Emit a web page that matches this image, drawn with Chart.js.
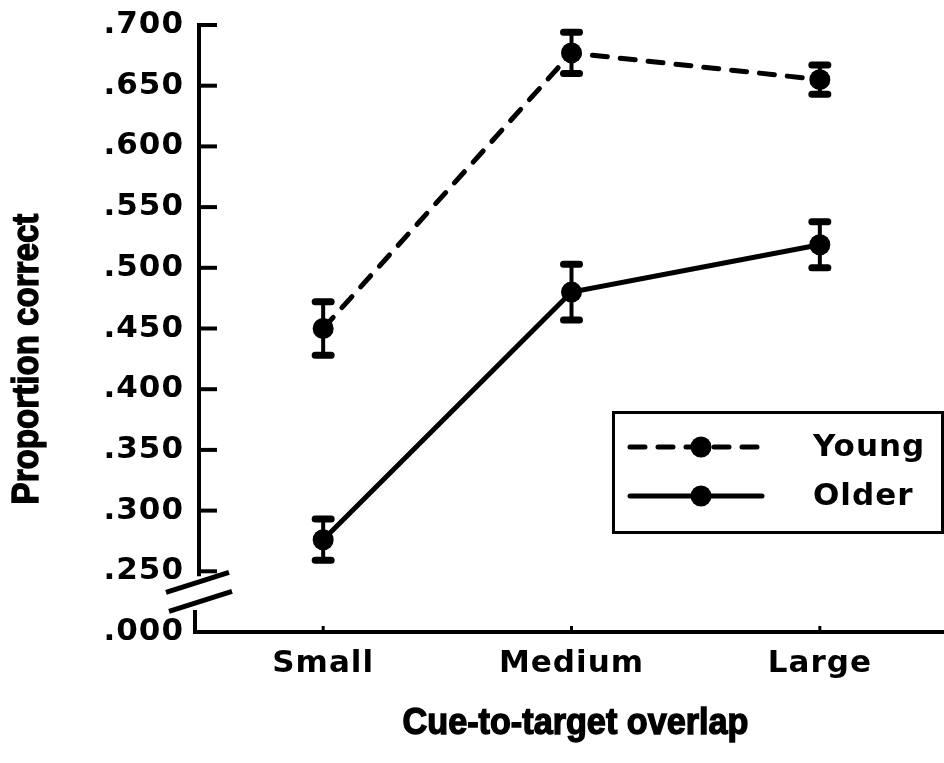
<!DOCTYPE html>
<html>
<head>
<meta charset="utf-8">
<script src="https://cdn.jsdelivr.net/npm/chart.js@4/dist/chart.umd.min.js"></script>
<style>
  html, body { margin: 0; padding: 0; background: #fff; }
  #wrap { width: 944px; height: 763px; }
</style>
</head>
<body>
<div id="wrap"><canvas id="c" width="944" height="763"></canvas></div>
<script>
// Mean proportion correct by cue-to-target overlap, with error bar half-widths
const categories = ['Small', 'Medium', 'Large'];
const youngMeans = [0.450, 0.677, 0.655];
const youngErrors = [0.022, 0.017, 0.012];
const olderMeans = [0.276, 0.480, 0.519];
const olderErrors = [0.017, 0.023, 0.019];
const seriesNames = ['Young', 'Older'];

// Broken y axis: the lowest tick stands for zero
const yMin = 0.2;
const yMax = 0.7;
const yStep = 0.05;
const yBreakValue = 0.25;
const zeroLabel = '.000';

const xTitle = 'Cue-to-target overlap';
const yTitle = 'Proportion correct';

const INK = '#000';
const LABEL_FONT = 'DejaVu Sans';
const TITLE_FONT = 'Liberation Sans';

function tickText(v) {
  if (Math.abs(v - yMin) < 1e-9) return zeroLabel;
  return v.toFixed(3).replace(/^0/, '');
}

// heavy condensed title text
function drawHeavyText(ctx, text) {
  ctx.fillText(text, 0, 0);
  ctx.lineWidth = 1.4;
  ctx.strokeText(text, 0, 0);
}

// keep the plot area fixed: no extra room for overhanging tick labels
function noOverhang(s) {
  s.paddingLeft = 0;
  s.paddingRight = 0;
  s.paddingTop = 0;
  s.paddingBottom = 0;
}

const figurePlugin = {
  id: 'figure',
  beforeDraw(chart) {
    const ctx = chart.ctx;
    ctx.letterSpacing = '0px';
    ctx.save();
    ctx.fillStyle = '#fff';
    ctx.fillRect(0, 0, chart.width, chart.height);
    ctx.restore();
  },
  beforeDatasetsDraw(chart) {
    const ctx = chart.ctx;
    const { left, right, top, bottom } = chart.chartArea;
    const xs = chart.scales.x, ys = chart.scales.y;
    const yBreak = ys.getPixelForValue(yBreakValue);
    ctx.save();
    ctx.strokeStyle = INK;
    ctx.lineCap = 'butt';

    // y axis above the break
    ctx.lineWidth = 4;
    ctx.beginPath();
    ctx.moveTo(left, top - 2);
    ctx.lineTo(left, yBreak + 5);
    ctx.stroke();

    // short stub below the break, then the x axis
    ctx.beginPath();
    ctx.moveTo(left - 4, bottom - 22);
    ctx.lineTo(left - 4, bottom);
    ctx.lineTo(right, bottom);
    ctx.stroke();

    // inward y tick marks
    ys.ticks.forEach(t => {
      if (Math.abs(t.value - yMin) < 1e-9) return;
      const py = ys.getPixelForValue(t.value);
      ctx.beginPath();
      ctx.moveTo(left, py);
      ctx.lineTo(left + 18, py);
      ctx.stroke();
    });

    // small upward x tick marks
    ctx.lineWidth = 3;
    categories.forEach((c, i) => {
      const px = xs.getPixelForValue(i);
      ctx.beginPath();
      ctx.moveTo(px, bottom);
      ctx.lineTo(px, bottom - 6);
      ctx.stroke();
    });

    // axis break marks
    ctx.lineWidth = 5;
    ctx.beginPath();
    ctx.moveTo(left - 33, yBreak + 21);
    ctx.lineTo(left + 30, yBreak + 1);
    ctx.moveTo(left - 30, yBreak + 40);
    ctx.lineTo(left + 33, yBreak + 20);
    ctx.stroke();

    // error bars
    chart.data.datasets.forEach(ds => {
      ds.data.forEach((m, i) => {
        const e = ds.errors[i];
        const px = xs.getPixelForValue(i);
        const yHi = ys.getPixelForValue(m + e);
        const yLo = ys.getPixelForValue(m - e);
        ctx.lineCap = 'butt';
        ctx.lineWidth = 4;
        ctx.beginPath();
        ctx.moveTo(px, yHi);
        ctx.lineTo(px, yLo);
        ctx.stroke();
        ctx.lineCap = 'round';
        ctx.lineWidth = 7;
        ctx.beginPath();
        ctx.moveTo(px - 8, yHi);
        ctx.lineTo(px + 8, yHi);
        ctx.moveTo(px - 8, yLo);
        ctx.lineTo(px + 8, yLo);
        ctx.stroke();
      });
    });
    ctx.restore();
  },
  afterDatasetsDraw(chart) {
    // tick labels are drawn after this with a little letter spacing
    chart.ctx.letterSpacing = '1px';
  },
  afterDraw(chart) {
    const ctx = chart.ctx;
    const { left, right, top, bottom } = chart.chartArea;
    ctx.letterSpacing = '0px';
    ctx.save();
    ctx.fillStyle = INK;
    ctx.strokeStyle = INK;

    // axis titles in a condensed bold face
    ctx.font = 'bold 36px "' + TITLE_FONT + '"';
    ctx.textAlign = 'center';
    ctx.textBaseline = 'middle';
    ctx.save();
    ctx.translate((left + right) / 2 + 4, bottom + 92);
    ctx.scale(0.95, 1);
    drawHeavyText(ctx, xTitle);
    ctx.restore();

    ctx.save();
    ctx.translate(28, top + 334);
    ctx.rotate(-Math.PI / 2);
    ctx.scale(0.92, 1);
    drawHeavyText(ctx, yTitle);
    ctx.restore();

    // legend box
    const bx = right - 331, by = top + 387, bw = 329, bh = 120;
    ctx.lineWidth = 3;
    ctx.strokeRect(bx + 0.5, by + 0.5, bw, bh);

    const rows = [by + 35, by + 84];
    chart.data.datasets.forEach((ds, k) => {
      const ry = rows[k];
      ctx.save();
      ctx.lineWidth = ds.borderWidth;
      ctx.lineCap = ds.borderCapStyle;
      ctx.setLineDash(ds.borderDash || []);
      ctx.beginPath();
      ctx.moveTo(bx + 17, ry);
      ctx.lineTo(bx + 149, ry);
      ctx.stroke();
      ctx.restore();
      ctx.beginPath();
      ctx.arc(bx + 88, ry, ds.pointRadius, 0, Math.PI * 2);
      ctx.fill();

      ctx.font = 'bold 31px "' + LABEL_FONT + '"';
      ctx.letterSpacing = '1px';
      ctx.textAlign = 'left';
      ctx.textBaseline = 'middle';
      ctx.fillText(ds.label, bx + 200, ry + 1);
      ctx.letterSpacing = '0px';
    });
    ctx.restore();
  }
};

new Chart(document.getElementById('c'), {
  type: 'line',
  data: {
    labels: categories,
    datasets: [
      {
        label: seriesNames[0],
        data: youngMeans,
        errors: youngErrors,
        borderColor: INK,
        backgroundColor: INK,
        borderWidth: 5,
        borderDash: [15, 13],
        borderCapStyle: 'round',
        pointRadius: 10.5,
        pointBackgroundColor: INK,
        pointBorderWidth: 0,
        tension: 0,
        fill: false
      },
      {
        label: seriesNames[1],
        data: olderMeans,
        errors: olderErrors,
        borderColor: INK,
        backgroundColor: INK,
        borderWidth: 5,
        borderCapStyle: 'round',
        pointRadius: 10.5,
        pointBackgroundColor: INK,
        pointBorderWidth: 0,
        tension: 0,
        fill: false
      }
    ]
  },
  options: {
    responsive: false,
    animation: false,
    devicePixelRatio: 1,
    layout: { autoPadding: false, padding: { top: 25, right: 0, left: 0, bottom: 0 } },
    plugins: { legend: { display: false }, tooltip: { enabled: false }, title: { display: false } },
    scales: {
      x: {
        type: 'category',
        offset: true,
        grid: { display: false, drawTicks: false },
        border: { display: false },
        ticks: {
          color: INK,
          font: { family: LABEL_FONT, weight: 'bold', size: 31 },
          padding: 13,
          z: 1,
          maxRotation: 0,
          autoSkip: false
        },
        afterFit(s) { s.height = 131; noOverhang(s); }
      },
      y: {
        type: 'linear',
        min: yMin,
        max: yMax,
        grid: { display: false, drawTicks: false },
        border: { display: false },
        ticks: {
          stepSize: yStep,
          color: INK,
          font: { family: LABEL_FONT, weight: 'bold', size: 31 },
          padding: 15,
          z: 1,
          callback: v => tickText(v)
        },
        afterFit(s) { s.width = 199; noOverhang(s); }
      }
    }
  },
  plugins: [figurePlugin]
});
</script>
</body>
</html>
